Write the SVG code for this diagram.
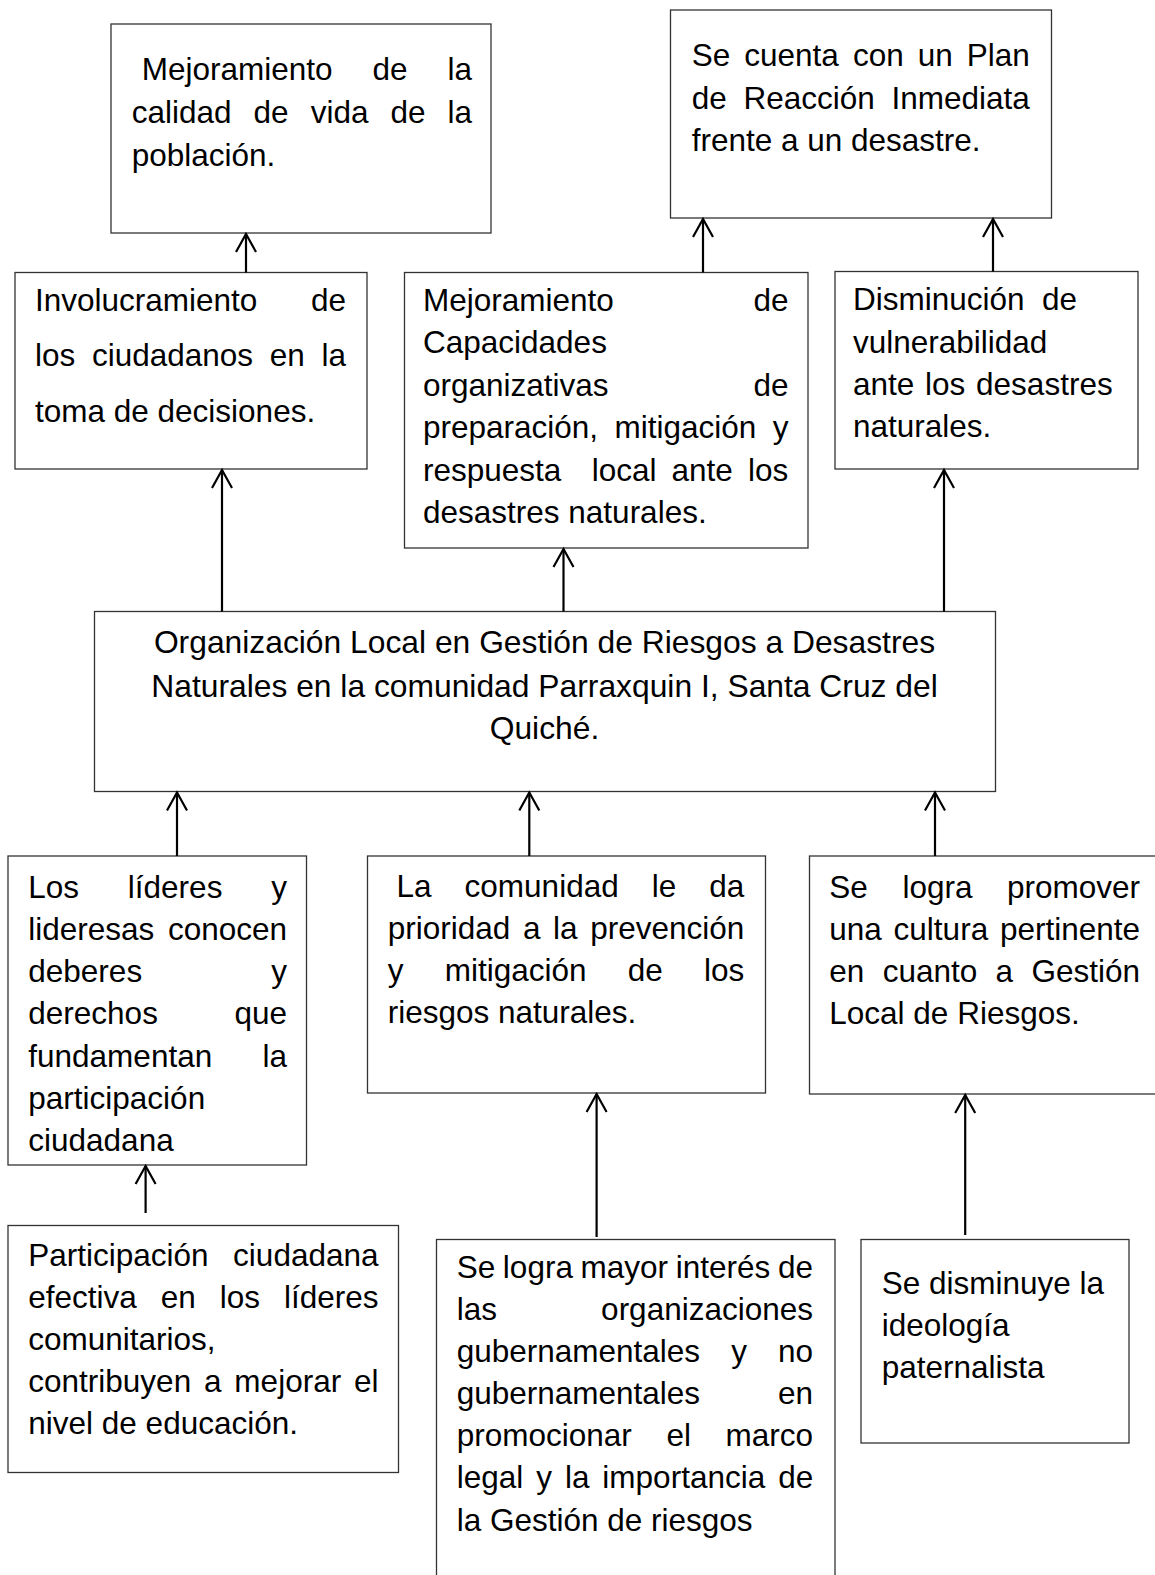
<svg xmlns="http://www.w3.org/2000/svg" width="1155" height="1575" viewBox="0 0 1155 1575">
<style>
.bg{fill:#fff}
.box{fill:#fff;stroke:#333;stroke-width:1.3}
.t{font-family:"Liberation Sans",Arial,sans-serif;font-size:31.5px;fill:#000}
.e{text-anchor:end}
.m{text-anchor:middle}
.c{stroke:#000;stroke-width:2.2;fill:none}
</style>
<defs>
<marker id="ah" markerUnits="userSpaceOnUse" orient="auto" overflow="visible" markerWidth="20" markerHeight="24" refX="0" refY="0">
<path d="M-18,-10 L0,0 L-18,10" fill="none" stroke="#000" stroke-width="2.2"/>
</marker>
</defs>
<rect class="bg" x="0" y="0" width="1155" height="1575"/>

<g id="n-calidad">
<rect class="box" x="111" y="24" width="380" height="209"/>
<text class="t"><tspan x="141.7" y="80" word-spacing="31.2">Mejoramiento de la</tspan><tspan x="131.7" y="123" word-spacing="13.3">calidad de vida de la</tspan><tspan x="131.7" y="166">población.</tspan></text>
</g>

<g id="n-plan">
<rect class="box" x="670.5" y="10" width="381" height="208"/>
<text class="t"><tspan x="691.7" y="66" word-spacing="5.3">Se cuenta con un Plan</tspan><tspan x="691.7" y="109" word-spacing="8">de Reacción Inmediata</tspan><tspan x="691.7" y="151">frente a un desastre.</tspan></text>
</g>

<g id="n-involucramiento">
<rect class="box" x="15" y="272.5" width="352" height="196.5"/>
<text class="t"><tspan x="35" y="311">Involucramiento</tspan><tspan class="e" x="346" y="311">de</tspan><tspan x="35" y="366" word-spacing="7.9">los ciudadanos en la</tspan><tspan x="35" y="422">toma de decisiones.</tspan></text>
</g>

<g id="n-capacidades">
<rect class="box" x="404.5" y="272.5" width="403.5" height="275.5"/>
<text class="t" xml:space="preserve"><tspan x="423" y="311">Mejoramiento</tspan><tspan class="e" x="788.5" y="311">de</tspan><tspan x="423" y="353">Capacidades</tspan><tspan x="423" y="396">organizativas</tspan><tspan class="e" x="788.5" y="396">de</tspan><tspan x="423" y="438" word-spacing="7.7">preparación, mitigación y</tspan><tspan x="423" y="481" word-spacing="6.4">respuesta  local ante los</tspan><tspan x="423" y="523">desastres naturales.</tspan></text>
</g>

<g id="n-vulnerabilidad">
<rect class="box" x="835" y="271.5" width="303" height="197.5"/>
<text class="t" xml:space="preserve"><tspan x="853" y="310">Disminución  de</tspan><tspan x="853" y="353">vulnerabilidad</tspan><tspan x="853" y="395" word-spacing="2">ante los desastres</tspan><tspan x="853" y="437">naturales.</tspan></text>
</g>

<g id="n-central">
<rect class="box" x="94.5" y="611.5" width="901" height="180"/>
<text class="t m" style="font-size:31.8px"><tspan x="544.5" y="653">Organización Local en Gestión de Riesgos a Desastres</tspan><tspan x="544.5" y="697">Naturales en la comunidad Parraxquin I, Santa Cruz del</tspan><tspan x="544.5" y="739">Quiché.</tspan></text>
</g>

<g id="n-lideres">
<rect class="box" x="8" y="856" width="298.5" height="309"/>
<text class="t"><tspan x="28.3" y="898" word-spacing="40">Los líderes y</tspan><tspan x="28.3" y="940" word-spacing="4.8">lideresas conocen</tspan><tspan x="28.3" y="982">deberes</tspan><tspan class="e" x="287" y="982">y</tspan><tspan x="28.3" y="1024">derechos</tspan><tspan class="e" x="287" y="1024">que</tspan><tspan x="28.3" y="1067">fundamentan</tspan><tspan class="e" x="287" y="1067">la</tspan><tspan x="28.3" y="1109">participación</tspan><tspan x="28.3" y="1151">ciudadana</tspan></text>
</g>

<g id="n-comunidad">
<rect class="box" x="367.5" y="856" width="398" height="237"/>
<text class="t"><tspan x="396.5" y="897" word-spacing="24.3">La comunidad le da</tspan><tspan x="387.7" y="939" word-spacing="3.9">prioridad a la prevención</tspan><tspan x="387.7" y="981" word-spacing="32.5">y mitigación de los</tspan><tspan x="387.7" y="1023">riesgos naturales.</tspan></text>
</g>

<g id="n-cultura">
<rect class="box" x="809.5" y="856" width="360" height="238"/>
<text class="t"><tspan x="829.3" y="898" word-spacing="25.8">Se logra promover</tspan><tspan x="829.3" y="940" word-spacing="3">una cultura pertinente</tspan><tspan x="829.3" y="982" word-spacing="9.6">en cuanto a Gestión</tspan><tspan x="829.3" y="1024">Local de Riesgos.</tspan></text>
</g>

<g id="n-participacion">
<rect class="box" x="8" y="1225.5" width="390.5" height="247"/>
<text class="t"><tspan x="28.3" y="1266">Participación</tspan><tspan class="e" x="378.5" y="1266">ciudadana</tspan><tspan x="28.3" y="1308" word-spacing="15.2">efectiva en los líderes</tspan><tspan x="28.3" y="1350">comunitarios,</tspan><tspan x="28.3" y="1392" word-spacing="4.1">contribuyen a mejorar el</tspan><tspan x="28.3" y="1434">nivel de educación.</tspan></text>
</g>

<g id="n-interes">
<rect class="box" x="436.5" y="1239.5" width="398.5" height="350"/>
<text class="t"><tspan x="456.7" y="1278" word-spacing="-1.1">Se logra mayor interés de</tspan><tspan x="456.7" y="1320">las</tspan><tspan class="e" x="813" y="1320">organizaciones</tspan><tspan x="456.7" y="1362" word-spacing="22.3">gubernamentales y no</tspan><tspan x="456.7" y="1404">gubernamentales</tspan><tspan class="e" x="813" y="1404">en</tspan><tspan x="456.7" y="1446" word-spacing="25.9">promocionar el marco</tspan><tspan x="456.7" y="1488" word-spacing="4.2">legal y la importancia de</tspan><tspan x="456.7" y="1531">la Gestión de riesgos</tspan></text>
</g>

<g id="n-paternalista">
<rect class="box" x="861" y="1239.5" width="268" height="203.5"/>
<text class="t"><tspan x="881.7" y="1294">Se disminuye la</tspan><tspan x="881.7" y="1336">ideología</tspan><tspan x="881.7" y="1378">paternalista</tspan></text>
</g>

<g id="connectors">
<line class="c" x1="246" y1="272.5" x2="246" y2="234" marker-end="url(#ah)"/>
<line class="c" x1="703" y1="272.5" x2="703" y2="219" marker-end="url(#ah)"/>
<line class="c" x1="993" y1="271.5" x2="993" y2="219" marker-end="url(#ah)"/>
<line class="c" x1="222" y1="611.5" x2="222" y2="470" marker-end="url(#ah)"/>
<line class="c" x1="563.5" y1="611.5" x2="563.5" y2="549" marker-end="url(#ah)"/>
<line class="c" x1="944" y1="611.5" x2="944" y2="470" marker-end="url(#ah)"/>
<line class="c" x1="177" y1="856" x2="177" y2="792.5" marker-end="url(#ah)"/>
<line class="c" x1="529.3" y1="856" x2="529.3" y2="792.5" marker-end="url(#ah)"/>
<line class="c" x1="935" y1="856" x2="935" y2="792.5" marker-end="url(#ah)"/>
<line class="c" x1="145.6" y1="1213" x2="145.6" y2="1166" marker-end="url(#ah)"/>
<line class="c" x1="596.6" y1="1237" x2="596.6" y2="1094" marker-end="url(#ah)"/>
<line class="c" x1="965.2" y1="1235" x2="965.2" y2="1095" marker-end="url(#ah)"/>
</g>
</svg>
